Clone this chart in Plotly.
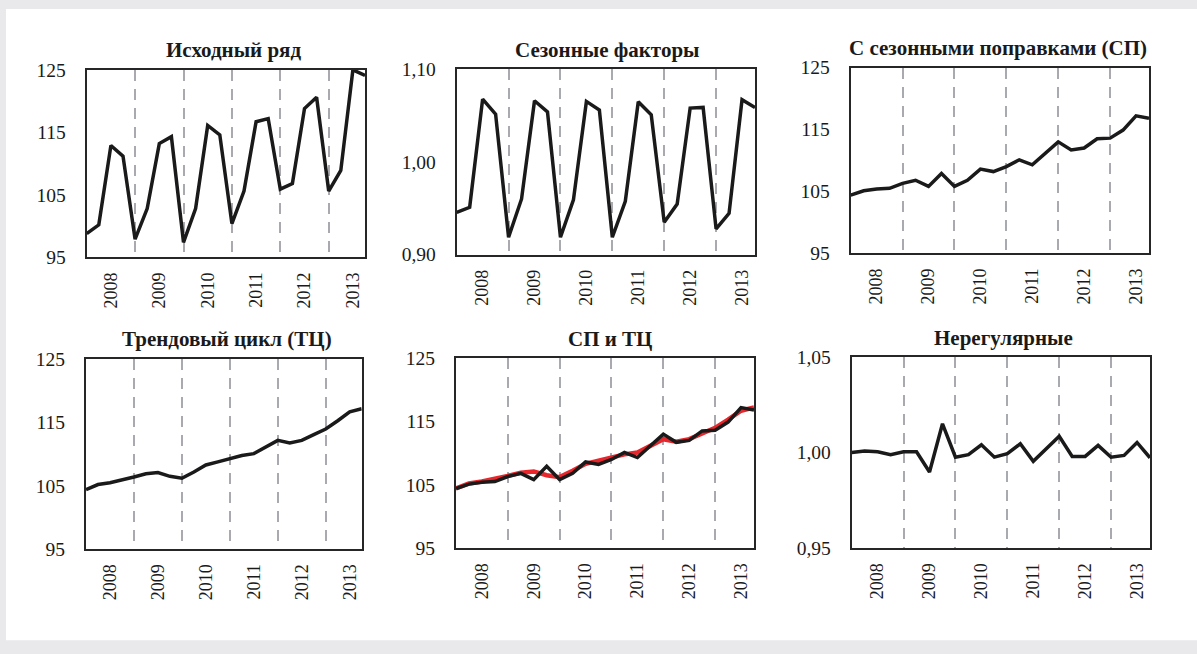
import plotly.graph_objects as go

# Quarterly series, 2008 Q1 – 2013 Q4
quarters = list(range(24))
year_labels = ["2008", "2009", "2010", "2011", "2012", "2013"]
year_label_pos = [2, 6, 10, 14, 18, 22]
year_breaks = [4, 8, 12, 16, 20]

original = [98.8, 100.2, 112.9, 111.2, 97.9, 102.8, 113.2, 114.3,
            97.4, 102.8, 116.1, 114.6, 100.4, 105.6, 116.7, 117.2,
            105.9, 106.8, 118.8, 120.6, 105.6, 108.9, 125.0, 124.1]

seasonal = [0.9456, 0.951, 1.0677, 1.0515, 0.9187, 0.960, 1.0659, 1.054,
            0.9187, 0.959, 1.0652, 1.056, 0.9187, 0.9575, 1.0648, 1.0508,
            0.935, 0.9546, 1.058, 1.0587, 0.9277, 0.9445, 1.067, 1.0587]

seas_adj = [104.4, 105.1, 105.4, 105.5, 106.3, 106.8, 105.8, 107.9,
            105.8, 106.8, 108.6, 108.2, 109.0, 110.1, 109.3, 111.1,
            113.0, 111.7, 112.0, 113.5, 113.6, 114.9, 117.2, 116.8]

trend = [104.4, 105.2, 105.5, 105.9, 106.4, 106.9, 107.1, 106.5,
         106.2, 107.2, 108.3, 108.8, 109.3, 109.8, 110.1, 111.1,
         112.2, 111.8, 112.2, 113.1, 114.0, 115.3, 116.7, 117.2]

irregular = [1.0000, 1.0008, 1.0004, 0.9989, 1.0004, 1.0004, 0.9898, 1.0151,
             0.9976, 0.9989, 1.0041, 0.9976, 0.9994, 1.0046, 0.9954, 1.0017,
             1.0086, 0.9980, 0.9980, 1.0038, 0.9976, 0.9985, 1.0053, 0.9973]

titles = ["Исходный ряд", "Сезонные факторы", "С сезонными поправками (СП)",
          "Трендовый цикл (ТЦ)", "СП и ТЦ", "Нерегулярные"]

index_ticks = [95, 105, 115, 125]
index_ticktext = ["95", "105", "115", "125"]
seas_ticks = [0.90, 1.00, 1.10]
seas_ticktext = ["0,90", "1,00", "1,10"]
irr_ticks = [0.95, 1.00, 1.05]
irr_ticktext = ["0,95", "1,00", "1,05"]

W, H = 1197, 654
SERIF = "Liberation Serif, Times New Roman, serif"
INK = "#1a1a1a"


def vy(px):
    """Vertical pixel position (from top) to paper fraction."""
    return 1 - ((px - 9.1) / 0.969) / H


# pixel boxes of the six plot areas: (left, right, top, bottom)
boxes = [
    (86.7, 365.0, 69.0, 256.7),
    (456.7, 755.0, 68.3, 254.0),
    (850.7, 1149.0, 66.7, 252.7),
    (86.0, 361.7, 359.0, 548.7),
    (456.0, 754.0, 357.7, 547.7),
    (851.7, 1150.0, 356.7, 547.7),
]
title_pos = [(233, 49), (607, 49), (998, 47), (227, 338), (610, 338), (1003, 337)]

fig = go.Figure()

# white card over a light grey page
fig.add_shape(type="rect", xref="paper", yref="paper",
              x0=6 / W, x1=1.0, y0=vy(640), y1=vy(8),
              fillcolor="white", line=dict(width=0), layer="below")

LW = 3.5
panels = [
    [(original, INK, LW)],
    [(seasonal, INK, LW)],
    [(seas_adj, INK, LW)],
    [(trend, INK, LW)],
    [(trend, "#e8262b", 4.5), (seas_adj, INK, LW)],
    [(irregular, INK, LW)],
]
yranges = [(95, 125), (0.90, 1.10), (95, 125), (95, 125), (95, 125), (0.95, 1.05)]
yticks = [(index_ticks, index_ticktext), (seas_ticks, seas_ticktext),
          (index_ticks, index_ticktext), (index_ticks, index_ticktext),
          (index_ticks, index_ticktext), (irr_ticks, irr_ticktext)]

for i, (box, series) in enumerate(zip(boxes, panels)):
    n = i + 1
    xa = "x" if n == 1 else f"x{n}"
    ya = "y" if n == 1 else f"y{n}"
    for vals, color, width in series:
        fig.add_trace(go.Scatter(x=quarters, y=vals, mode="lines",
                                 line=dict(color=color, width=width),
                                 xaxis=xa, yaxis=ya, showlegend=False,
                                 hoverinfo="skip"))
    l, r, t, b = box
    xkey = "xaxis" if n == 1 else f"xaxis{n}"
    ykey = "yaxis" if n == 1 else f"yaxis{n}"
    fig.layout[xkey] = dict(
        domain=[l / W, r / W], anchor=ya, range=[0, 23],
        tickmode="array", tickvals=year_label_pos, ticktext=year_labels,
        tickangle=-90, ticks="", showgrid=False, zeroline=False,
        showline=True, linecolor="#262626", linewidth=2, mirror=True,
        tickfont=dict(family=SERIF, size=18, color=INK),
        ticklabelstandoff=6,
        minor=dict(tickvals=year_breaks, showgrid=True, gridcolor="#a9a9b0",
                   gridwidth=1.6, griddash="11px,8px", ticks=""),
        fixedrange=True,
    )
    tv, tt = yticks[i]
    fig.layout[ykey] = dict(
        domain=[vy(b), vy(t)], anchor=xa, range=list(yranges[i]),
        tickmode="array", tickvals=tv, ticktext=tt,
        ticks="", showgrid=False, zeroline=False,
        showline=True, linecolor="#262626", linewidth=2, mirror=True,
        tickfont=dict(family=SERIF, size=19.5, color=INK),
        ticklabelstandoff=15,
        fixedrange=True,
    )
    tx, ty = title_pos[i]
    fig.add_annotation(text=f"<b>{titles[i]}</b>", xref="paper", yref="paper",
                       x=tx / W, y=vy(ty), xanchor="center", yanchor="middle",
                       showarrow=False, font=dict(family=SERIF, size=21, color=INK))

fig.update_layout(
    width=W, height=H, margin=dict(l=0, r=0, t=0, b=0),
    paper_bgcolor="#e9e9eb", plot_bgcolor="white",
)

fig.write_html("out.html", config={"displayModeBar": False})
